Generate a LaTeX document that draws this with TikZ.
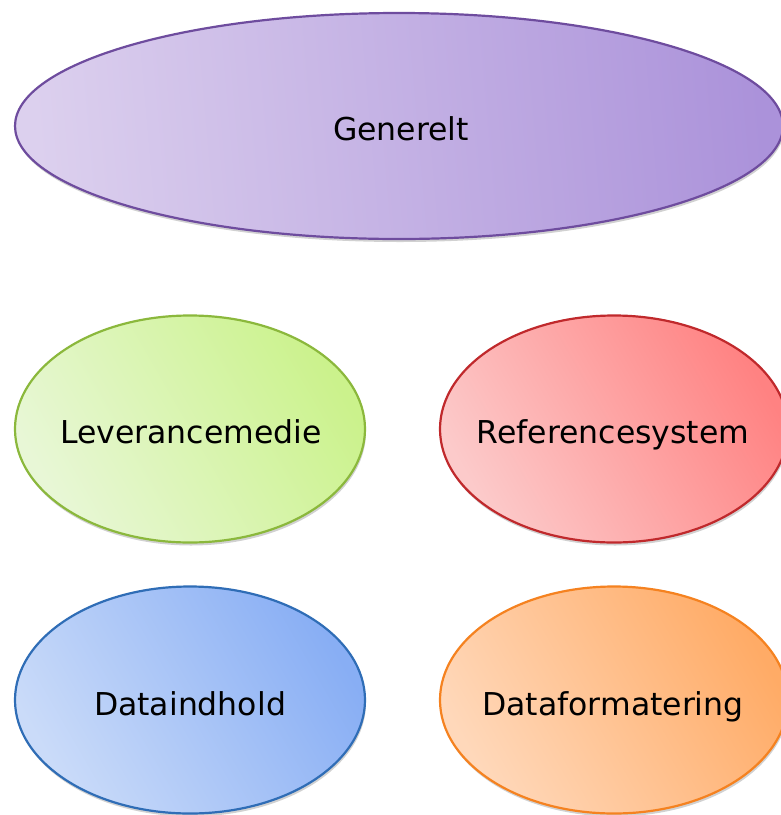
\documentclass[tikz,border=0pt]{standalone}
\usepackage{fontspec}
\setmainfont{DejaVu Sans}
\usetikzlibrary{shapes.geometric,shadows}
\tikzset{
  oval/.style={ellipse, inner sep=0pt, line width=2.2pt,
    drop shadow={shadow xshift=1pt, shadow yshift=-3pt, opacity=0.18, fill=black}},
  label/.style={anchor=base, inner sep=0pt, font=\fontsize{31.5}{36}\selectfont, text=black},
  purpleoval/.style={oval, draw=ovpurpleB, left color=ovpurpleL, right color=ovpurpleR, shading angle=95},
  greenoval/.style={oval, draw=ovgreenB, left color=ovgreenL, right color=ovgreenR, shading angle=120},
  redoval/.style={oval, draw=ovredB, left color=ovredL, right color=ovredR, shading angle=120},
  blueoval/.style={oval, draw=ovblueB, left color=ovblueL, right color=ovblueR, shading angle=120},
  orangeoval/.style={oval, draw=ovorangeB, left color=ovorangeL, right color=ovorangeR, shading angle=120},
}
\definecolor{ovpurpleB}{HTML}{6E4C9E}
\definecolor{ovpurpleL}{HTML}{DCD0EE}
\definecolor{ovpurpleR}{HTML}{AB92DA}
\definecolor{ovgreenB}{HTML}{8BB83C}
\definecolor{ovgreenL}{HTML}{E8F7D6}
\definecolor{ovgreenR}{HTML}{CBF28C}
\definecolor{ovredB}{HTML}{C0292C}
\definecolor{ovredL}{HTML}{FCCACA}
\definecolor{ovredR}{HTML}{FF8282}
\definecolor{ovblueB}{HTML}{2F6DB6}
\definecolor{ovblueL}{HTML}{CADBF9}
\definecolor{ovblueR}{HTML}{88AEF4}
\definecolor{ovorangeB}{HTML}{F58220}
\definecolor{ovorangeL}{HTML}{FFD8BA}
\definecolor{ovorangeR}{HTML}{FFAB66}
\begin{document}
\begin{tikzpicture}[x=1pt,y=-1pt]
\useasboundingbox (0,0) rectangle (781,815);
\fill[white] (0,0) rectangle (781,815);
\begin{scope}
\clip (0,0) rectangle (781,815);
\node[purpleoval, minimum width=768pt, minimum height=226pt] (gen) at (399,126) {};
\node[greenoval, minimum width=350pt, minimum height=227pt] (lev) at (190,429) {};
\node[redoval, minimum width=348pt, minimum height=227pt] (ref) at (614,429) {};
\node[blueoval, minimum width=350pt, minimum height=227pt] (dat) at (190,700) {};
\node[orangeoval, minimum width=348pt, minimum height=227pt] (fmt) at (614,700) {};
\end{scope}
\node[label] (tgen) at (401,140) {Generelt};
\node[label] (tlev) at (191,443) {Leverancemedie};
\node[label] (tref) at (613,443) {Referencesystem};
\node[label] (tdat) at (190,715) {Dataindhold};
\node[label] (tfmt) at (613,715) {Dataformatering};
\end{tikzpicture}
\end{document}
